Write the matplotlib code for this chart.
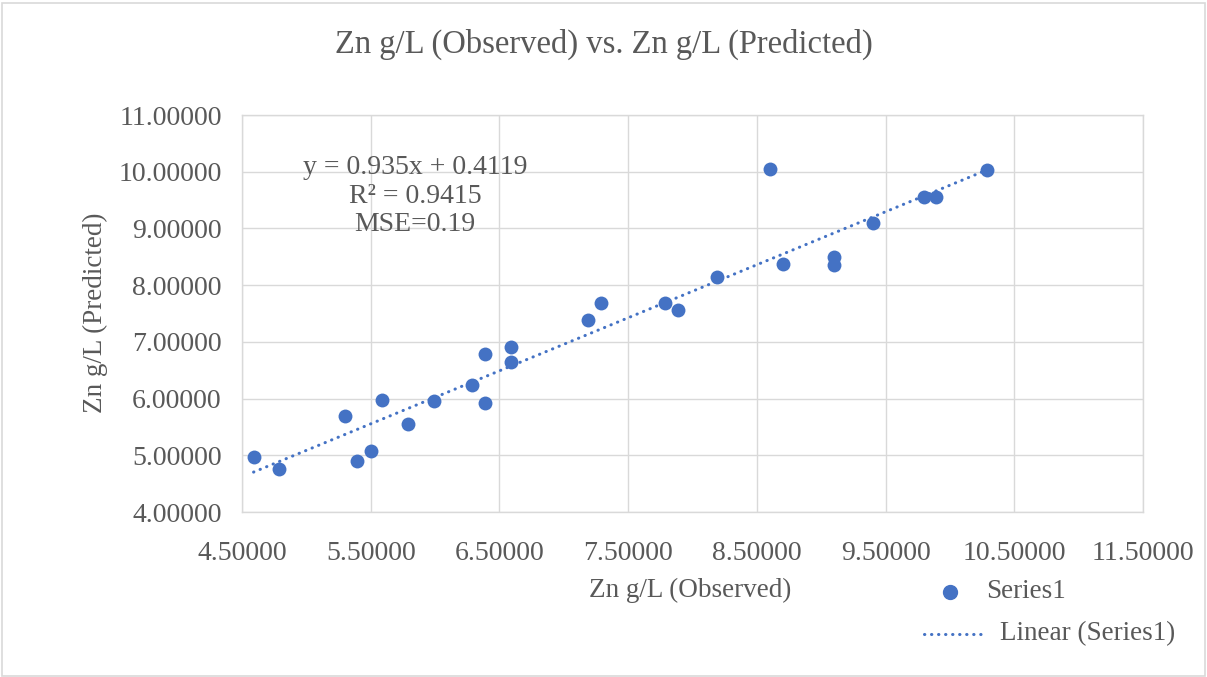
import matplotlib
matplotlib.use("Agg")
import matplotlib.pyplot as plt
import numpy as np
from matplotlib.lines import Line2D
from matplotlib.patches import Rectangle

observed = [4.59, 4.79, 5.30, 5.39, 5.50, 5.59, 5.79, 5.99, 6.29, 6.39, 6.39, 6.59, 6.59,
            7.19, 7.29, 7.79, 7.89, 8.19, 8.60, 8.70, 9.10, 9.10, 9.40, 9.80, 9.89, 10.29]
predicted = [4.97, 4.75, 5.69, 4.90, 5.08, 5.97, 5.55, 5.95, 6.24, 6.78, 5.93, 6.91, 6.65,
             7.39, 7.68, 7.68, 7.56, 8.14, 10.05, 8.38, 8.49, 8.36, 9.09, 9.56, 9.56, 10.03]
slope = 0.935
intercept = 0.4119
x_ticks = [4.5, 5.5, 6.5, 7.5, 8.5, 9.5, 10.5, 11.5]
y_ticks = [4, 5, 6, 7, 8, 9, 10, 11]

title = "Zn g/L (Observed) vs. Zn g/L (Predicted)"
xlabel = "Zn g/L (Observed)"
ylabel = "Zn g/L (Predicted)"
eq_text = "y = 0.935x + 0.4119\nR² = 0.9415\nMSE=0.19"
legend_labels = ["Series1", "Linear (Series1)"]

plt.rcParams['font.family'] = ['Liberation Serif', 'DejaVu Serif']
txt = '#595959'
blue = '#4472C4'
W, H = 1207, 677
dots = (0, (0.1, 2.2))

fig = plt.figure(figsize=(12.07, 6.77), dpi=100)
fig.patches.append(Rectangle((0.002, 0.002), 0.996, 0.994, transform=fig.transFigure,
                             fill=False, edgecolor='#D9D9D9', linewidth=1.2))
ax = fig.add_axes([242/W, 1 - 512/H, (1143-242)/W, (512-115)/H])

ax.scatter(observed, predicted, s=100, color=blue, zorder=3, linewidths=0)
xs = np.array([min(observed), max(observed)])
ax.plot(xs, slope * xs + intercept, linestyle=dots, color=blue, linewidth=2.2,
        zorder=2, dash_capstyle='round')

ax.set_xlim(4.5, 11.5)
ax.set_ylim(4, 11)
ax.set_xticks(x_ticks)
ax.set_yticks(y_ticks)
ax.set_xticklabels([f"{v:.5f}" for v in x_ticks])
ax.set_yticklabels([f"{v:.5f}" for v in y_ticks])
ax.tick_params(length=0, labelsize=20, colors=txt)
ax.tick_params(axis='y', pad=14.5)
ax.tick_params(axis='x', pad=21)
ax.grid(True, color='#D9D9D9', linewidth=1)
ax.set_axisbelow(True)
for s in ax.spines.values():
    s.set_color('#D9D9D9')
    s.set_linewidth(1)

fig.text(690/W, 1 - 590/H, xlabel, ha='center', va='center', fontsize=19.5, color=txt)
fig.text(95/W, 1 - 313/H, ylabel, ha='center', va='center', fontsize=19.5, color=txt,
         rotation=90)
fig.text(0.5, 1 - 44/H, title, ha='center', va='center', fontsize=23.5, color=txt)

fig.text(415/W, 1 - 196/H, eq_text, ha='center', va='center',
         fontsize=20, color=txt, linespacing=1.2)

# legend
fig.add_artist(Line2D([950/W], [1 - 592/H], marker='o', markersize=10, color=blue,
                      linestyle='none', transform=fig.transFigure))
fig.text(986/W, 1 - 592/H, legend_labels[0], ha='left', va='center', fontsize=19.5, color=txt)
fig.add_artist(Line2D([924/W, 986/W], [1 - 634/H, 1 - 634/H], linestyle=dots,
                      linewidth=2.2, color=blue, transform=fig.transFigure,
                      dash_capstyle='round'))
fig.text(1000/W, 1 - 634/H, legend_labels[1], ha='left', va='center', fontsize=19.5, color=txt)

fig.savefig('out.png', dpi=100)
